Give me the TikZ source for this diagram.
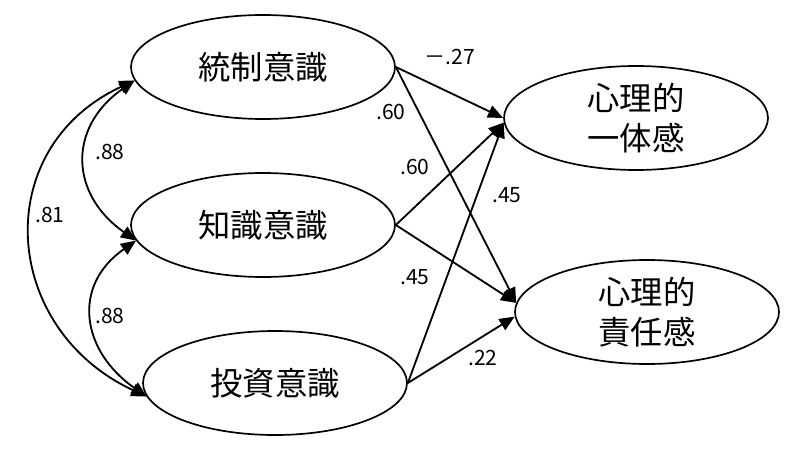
\documentclass[tikz,border=0pt]{standalone}
\usepackage{fontspec}
\setmainfont{Noto Sans CJK JP}
\usetikzlibrary{arrows.meta,shapes.geometric}
\begin{document}
\begin{tikzpicture}[
  latent/.style={draw, ellipse, line width=1.2pt, minimum width=6.6cm, minimum height=2.6cm,
    inner sep=0pt, align=center, font=\fontsize{23}{28.5}\selectfont},
  coef/.style={font=\fontsize{15}{18}\selectfont},
  effect/.style={line width=1.3pt, -{Triangle[length=0.38cm,width=0.32cm]}},
  cov/.style={line width=1.3pt, {Triangle[length=0.38cm,width=0.32cm]}-{Triangle[length=0.38cm,width=0.32cm]}}
]

  \useasboundingbox (0,0) rectangle (20,11.275);
  \node[latent] (control) at (6.575,9.6) {統制意識};
  \node[latent] (know) at (6.575,5.65) {知識意識};
  \node[latent] (invest) at (6.875,1.7) {投資意識};
  \node[latent] (unity) at (15.9,8.325) {心理的\\一体感};
  \node[latent] (resp) at (16.175,3.475) {心理的\\責任感};

  \draw[cov] (control.186) to[out=215,in=145,looseness=1.3] (know.187);
  \draw[cov] (know.187) to[out=215,in=145,looseness=1.3] (invest.186);
  \draw[cov] (control.186) to[out=205,in=155,looseness=1.3] (invest.186);
  \node[coef] (c88a) at (2.75,7.475) {.88};
  \node[coef] (c88b) at (2.75,3.375) {.88};
  \node[coef] (c81) at (1.25,5.9) {.81};

  \draw[effect] (control.east) -- (unity.180);
  \draw[effect] (control.east) -- (resp.176);
  \draw[effect] (know.east) -- (unity.182);
  \draw[effect] (know.east) -- (resp.176);
  \draw[effect] (invest.east) -- (unity.182);
  \draw[effect] (invest.east) -- (resp.182);
  \node[coef] (c27) at (11.25,9.85) {－.27};
  \node[coef] (c60a) at (9.775,8.475) {.60};
  \node[coef] (c60b) at (10.375,7.1) {.60};
  \node[coef] (c45a) at (12.675,6.4) {.45};
  \node[coef] (c45b) at (10.375,4.35) {.45};
  \node[coef] (c22) at (12.075,2.325) {.22};

\end{tikzpicture}
\end{document}
